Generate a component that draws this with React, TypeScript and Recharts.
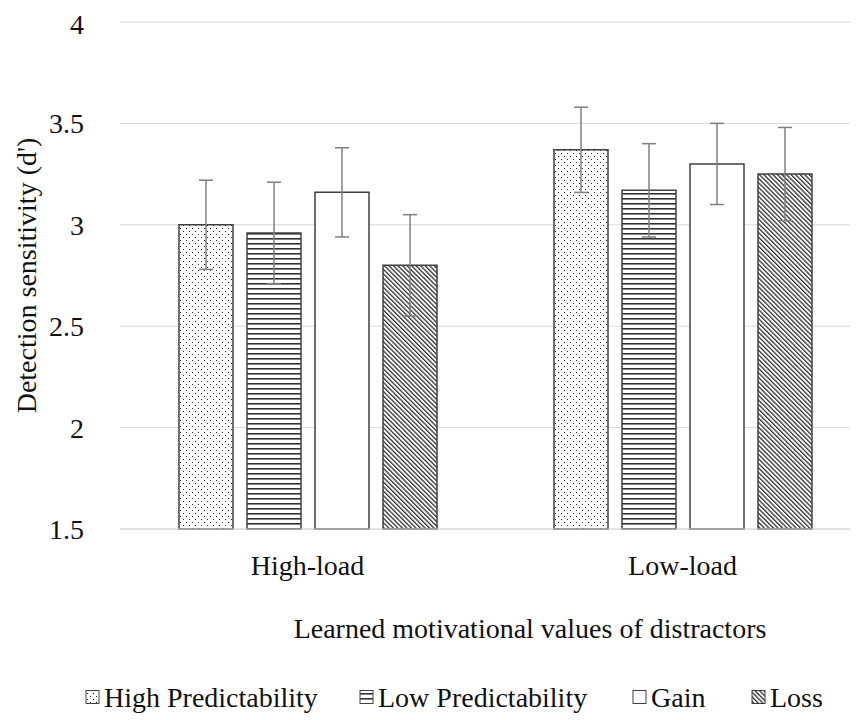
import React from 'react';
import { BarChart, Bar, XAxis, YAxis, CartesianGrid, ErrorBar, Label } from 'recharts';

const SERIF = '"Liberation Serif", Tinos, "Times New Roman"';
const INK = '#111111';
const EDGE = '#404040';

// values (means and +/- error)
const categories = ['High-load', 'Low-load'];
const highPred = [3.0, 3.37];
const highPredErr = [0.22, 0.21];
const lowPred = [2.96, 3.17];
const lowPredErr = [0.25, 0.23];
const gain = [3.16, 3.3];
const gainErr = [0.22, 0.2];
const loss = [2.8, 3.25];
const lossErr = [0.25, 0.23];
const yTicks = [1.5, 2, 2.5, 3, 3.5, 4];

const series = [
  { key: 'hp', name: 'High Predictability', values: highPred, errors: highPredErr, pattern: 'dots' },
  { key: 'lp', name: 'Low Predictability', values: lowPred, errors: lowPredErr, pattern: 'hlines' },
  { key: 'gain', name: 'Gain', values: gain, errors: gainErr, pattern: 'none' },
  { key: 'loss', name: 'Loss', values: loss, errors: lossErr, pattern: 'diag' },
];

const rows = categories.map((category, i) => {
  const row: any = { category };
  series.forEach((s) => {
    row[s.key] = s.values[i];
    row[s.key + 'Err'] = s.errors[i];
  });
  return row;
});

// left edge of each legend entry inside the chart svg
const legendLeft = [78, 352, 625, 744];

const fontCss = `
  body, #root, #root * { font-family: "Liberation Serif", Tinos, "Times New Roman" !important; }
  .recharts-wrapper text, .recharts-wrapper tspan { font-family: "Liberation Serif", Tinos, "Times New Roman" !important; }
`;

const Patterns = () => (
  <defs>
    <pattern id="pat-dots" width={6} height={6} patternUnits="userSpaceOnUse">
      <rect width={6} height={6} fill="#fff" />
      <rect x={1} y={1} width={1} height={1} fill="#222" />
      <rect x={4} y={4} width={1} height={1} fill="#222" />
    </pattern>
    <pattern id="pat-hlines" width={6} height={5} patternUnits="userSpaceOnUse">
      <rect width={6} height={5} fill="#fff" />
      <rect x={0} y={0} width={6} height={1.6} fill="#333" />
    </pattern>
    <pattern
      id="pat-diag"
      width={3.2}
      height={6}
      patternUnits="userSpaceOnUse"
      patternTransform="rotate(-45)"
    >
      <rect width={3.2} height={6} fill="#fff" />
      <rect x={0} y={0} width={1.3} height={6} fill="#333" />
    </pattern>
  </defs>
);

const fillFor = (pattern: string) => (pattern === 'none' ? '#ffffff' : `url(#pat-${pattern})`);

const YTitle = (props: any) => {
  const vb = props.viewBox;
  const cx = vb.x + 18;
  const cy = vb.y + vb.height / 2;
  return (
    <text
      x={cx}
      y={cy}
      transform={`rotate(-90, ${cx}, ${cy})`}
      textAnchor="middle"
      dominantBaseline="central"
      fontFamily={SERIF}
      fontSize={28}
      fill={INK}
    >
      Detection sensitivity (d')
    </text>
  );
};

// x-axis title plus the legend row underneath it
const Footer = (props: any) => {
  const vb = props.viewBox;
  const legendY = vb.y + 168;
  return (
    <g>
      <text
        x={vb.x + vb.width / 2 + 35}
        y={vb.y + 99}
        textAnchor="middle"
        dominantBaseline="central"
        fontFamily={SERIF}
        fontSize={28}
        fill={INK}
      >
        Learned motivational values of distractors
      </text>
      {series.map((s, i) => (
        <g key={s.key}>
          <rect
            x={legendLeft[i]}
            y={legendY - 6.5}
            width={13}
            height={13}
            fill={fillFor(s.pattern)}
            stroke={EDGE}
            strokeWidth={1}
          />
          <text
            x={legendLeft[i] + 18}
            y={legendY}
            dominantBaseline="central"
            fontFamily={SERIF}
            fontSize={28}
            fill={INK}
          >
            {s.name}
          </text>
        </g>
      ))}
    </g>
  );
};

const tickProps = { fontSize: 28, fill: INK, fontFamily: SERIF };

export default function App() {
  return (
    <div style={{ width: 850, height: 712, overflow: 'hidden', fontFamily: SERIF }}>
      <style>{fontCss}</style>
      <BarChart
        width={862}
        height={712}
        data={rows}
        margin={{ top: 14, right: 0, left: 0, bottom: 0 }}
        barSize={54}
        barGap={14}
        style={{ fontFamily: SERIF }}
      >
        <Patterns />
        <CartesianGrid vertical={false} stroke="#d9d9d9" strokeWidth={1} />
        <XAxis
          dataKey="category"
          height={191}
          interval={0}
          tickLine={false}
          axisLine={{ stroke: '#d9d9d9' }}
          tickMargin={20}
          tick={tickProps}
        >
          <Label content={Footer} />
        </XAxis>
        <YAxis
          width={112}
          domain={[1.5, 4]}
          ticks={yTicks}
          axisLine={false}
          tickLine={false}
          tickMargin={30}
          tick={tickProps}
        >
          <Label content={YTitle} />
        </YAxis>
        {series.map((s) => (
          <Bar
            key={s.key}
            dataKey={s.key}
            name={s.name}
            fill={fillFor(s.pattern)}
            stroke={EDGE}
            strokeWidth={1.5}
            isAnimationActive={false}
          >
            <ErrorBar
              dataKey={s.key + 'Err'}
              direction="y"
              width={7}
              stroke="#7f7f7f"
              strokeWidth={1.5}
            />
          </Bar>
        ))}
      </BarChart>
    </div>
  );
}
